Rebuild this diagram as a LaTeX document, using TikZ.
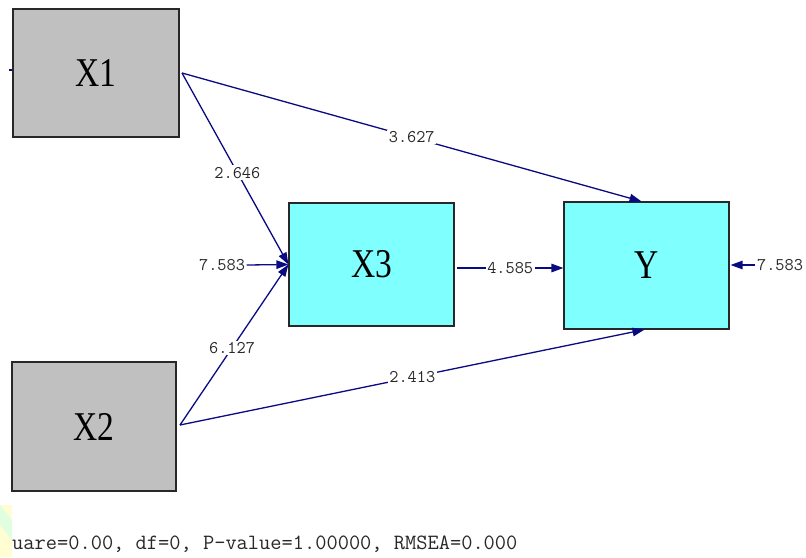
\documentclass[tikz,border=0pt]{standalone}
\usepackage{fontspec}
\setmainfont{Liberation Serif}
\usetikzlibrary{arrows.meta}
\definecolor{pathblue}{RGB}{10,10,130}
\definecolor{boxgray}{RGB}{192,192,192}
\definecolor{boxcyan}{RGB}{128,255,255}
\definecolor{edgegray}{RGB}{40,40,40}
\definecolor{lbltext}{RGB}{40,40,40}
\tikzset{
  obsgray/.style={draw=edgegray, line width=1.2pt, fill=boxgray, inner sep=0pt},
  obscyan/.style={draw=edgegray, line width=1.2pt, fill=boxcyan, inner sep=0pt},
  boxtext/.style={font=\fontsize{33.5}{34}\selectfont},
  pathline/.style={draw=pathblue, line width=1.3pt, -{Triangle[length=12pt,width=8.5pt]}},
  coef/.style={fill=white, inner sep=1.5pt, text=lbltext, font=\ttfamily\fontsize{17.8}{18}\selectfont},
}
\newcommand{\tallbox}[1]{\scalebox{1}[1.22]{#1}}
\begin{document}
\begin{tikzpicture}[x=1pt,y=-1pt]
\useasboundingbox (0,0) rectangle (806,557);
\fill[white] (0,0) rectangle (806,557);
% faint watermark corner
\fill[yellow!18] (0,505) rectangle (12,557);
\fill[green!12] (0,505) -- (12,520) -- (12,540) -- (0,525) -- cycle;

\node[obsgray, minimum width=166, minimum height=128] (X1) at (96,73) {};
\node[boxtext] (X1t) at (X1) {\tallbox{X1}};
\node[obsgray, minimum width=164, minimum height=129] (X2) at (94,426.5) {};
\node[boxtext] (X2t) at (X2) {\tallbox{X2}};
\node[obscyan, minimum width=165, minimum height=123] (X3) at (371.5,264.5) {};
\node[boxtext] (X3t) at (X3) {\tallbox{X3}};
\node[obscyan, minimum width=165, minimum height=127] (Y) at (646.5,265.5) {};
\node[boxtext] (Yt) at (Y) {\tallbox{Y}};

% small mark left of X1
\coordinate (m1) at (9,70);
\draw[pathblue, line width=1.2pt] (m1) -- (X1.west |- m1);

\coordinate (x1out) at (182,73);
\coordinate (x2out) at (180,425);

\draw[pathline] (x1out) -- node[coef, pos=0.52] {2.646} (X3.west);
\draw[pathline] (x2out) -- node[coef, pos=0.48] {6.127} (X3.west);
\draw[pathline] (x1out) -- node[coef, pos=0.5] {3.627} ([xshift=-5]Y.north);
\draw[pathline] (x2out) -- node[coef, pos=0.5] {2.413} ([xshift=-2]Y.south);

\node[coef] (e3) at (222,265) {7.583};
\draw[pathline] (e3.east) -- (X3.west);
\coordinate (r3) at (457,268);
\draw[pathline] (r3) -- node[coef] {4.585} (Y.west |- r3);
\node[coef] (ey) at (780,265) {7.583};
\draw[pathline] (ey.west) -- ([xshift=1]Y.east |- ey.west);

\node[anchor=base west, inner sep=0pt, text=lbltext, font=\ttfamily\fontsize{21.8}{22}\selectfont] (fit) at (12,549) {uare=0.00, df=0, P-value=1.00000, RMSEA=0.000};
\end{tikzpicture}
\end{document}
